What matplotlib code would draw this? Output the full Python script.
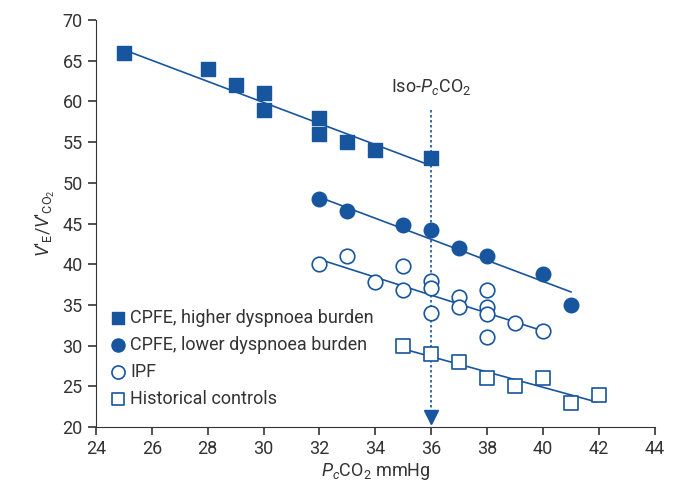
import numpy as np
import matplotlib
matplotlib.use("Agg")
import matplotlib.pyplot as plt

plt.rcParams['font.family'] = ['Roboto', 'DejaVu Sans']
plt.rcParams['mathtext.fontset'] = 'custom'
plt.rcParams['mathtext.rm'] = 'Roboto'
plt.rcParams['mathtext.it'] = 'Roboto:italic'

blue = "#17559e"
txt = "#333333"

# CPFE, higher dyspnoea burden
hi_x = [25, 28, 29, 30, 30, 32, 32, 33, 34, 36]
hi_y = [66, 64, 62, 61, 59, 58, 56, 55, 54, 53]
hi_fit_x = [24.8, 36]
hi_fit_y = [66.6, 52.1]

# CPFE, lower dyspnoea burden
lo_x = [32, 33, 35, 36, 37, 38, 40, 41]
lo_y = [48, 46.5, 44.8, 44.2, 42, 41, 38.8, 35]
lo_fit_x = [32.1, 41]
lo_fit_y = [48.1, 36.6]

# IPF
ipf_x = [32, 33, 34, 35, 35, 36, 36, 36, 37, 37, 38, 38, 38, 38, 39, 40]
ipf_y = [40, 41, 37.8, 39.8, 36.8, 37.9, 37.1, 34, 36, 34.8, 36.8, 34.7, 33.9, 31.1, 32.8, 31.8]
ipf_fit_x = [32, 40.1]
ipf_fit_y = [40.6, 31.7]

# Historical controls
hc_x = [35, 36, 37, 38, 39, 40, 41, 42]
hc_y = [30, 29, 28, 26, 25, 26, 23, 24]
hc_fit_x = [35.1, 41.9]
hc_fit_y = [29.5, 23.1]

iso_x = 36

fig = plt.figure(figsize=(6.8, 4.87), dpi=100)
ax = fig.add_axes([0.141, 0.123, 0.822, 0.836])

for fx, fy in [(hi_fit_x, hi_fit_y), (lo_fit_x, lo_fit_y), (ipf_fit_x, ipf_fit_y), (hc_fit_x, hc_fit_y)]:
    ax.plot(fx, fy, color=blue, lw=1.2, zorder=2)

ax.scatter(hi_x, hi_y, marker='s', s=92, color=blue, label="CPFE, higher dyspnoea burden", zorder=3)
ax.scatter(lo_x, lo_y, marker='o', s=110, color=blue, label="CPFE, lower dyspnoea burden", zorder=3)
ax.scatter(ipf_x, ipf_y, marker='o', s=110, facecolor='white', edgecolor=blue, lw=1.2, label="IPF", zorder=3)
ax.scatter(hc_x, hc_y, marker='s', s=92, facecolor='white', edgecolor=blue, lw=1.2, label="Historical controls", zorder=3)

# iso-PcCO2 dotted line with arrow head
ax.plot([iso_x, iso_x], [59, 21.5], color=blue, lw=1.2, ls=(0, (1.5, 1.5)), zorder=1)
ax.plot([iso_x], [21.2], marker='v', ms=10, color=blue, zorder=1)
ax.text(iso_x, 61.8, r"Iso-$P_c$CO$_2$", ha='center', va='center', fontsize=13, color=txt)

ax.set_xlim(24, 44)
ax.set_ylim(20, 70)
ax.set_xticks(np.arange(24, 45, 2))
ax.set_yticks(np.arange(20, 71, 5))
ax.spines['top'].set_visible(False)
ax.spines['right'].set_visible(False)
for s in ['left', 'bottom']:
    ax.spines[s].set_color(txt)
ax.tick_params(colors=txt, labelsize=13, length=6, width=1.2)

ax.set_xlabel(r"$P_c$CO$_2$ mmHg", fontsize=13, color=txt, labelpad=2)
ax.set_ylabel("$V$\u2032$_\\mathrm{E}$/$V$\u2032$_\\mathrm{CO_2}$", fontsize=13, color=txt, labelpad=4)

leg = ax.legend(loc='lower left', bbox_to_anchor=(0.0, 0.02), frameon=False, fontsize=13,
                handletextpad=0.1, labelspacing=0.5, borderaxespad=0.2, markerscale=0.9,
                handlelength=1.2)
for t in leg.get_texts():
    t.set_color(txt)

fig.savefig("out.png", dpi=100)
